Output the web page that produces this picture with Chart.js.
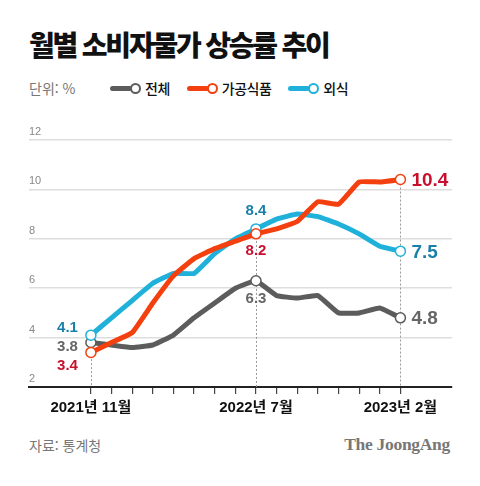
<!DOCTYPE html>
<html lang="ko">
<head>
<meta charset="utf-8">
<script src="https://cdn.jsdelivr.net/npm/chart.js@4"></script>
<style>
  body { margin: 0; width: 480px; height: 486px; background: #fff; position: relative; overflow: hidden;
         font-family: "Noto Sans CJK KR", "Noto Sans", sans-serif; }
  #title { position: absolute; left: 29px; top: 28px; font-size: 28px; line-height: 32px; font-weight: 900;
           letter-spacing: -2.2px; color: #111; white-space: nowrap; }
  #unit { position: absolute; left: 29px; top: 78px; font-size: 14px; line-height: 20px; color: #777; }
  #legend { position: absolute; left: 110px; top: 78px; display: flex; align-items: center; height: 20px; }
  .item { display: flex; align-items: center; margin-right: 17px; }
  .swatch { width: 22px; height: 5px; border-radius: 3px; }
  .dot { width: 7px; height: 7px; border-radius: 50%; border: 2px solid; background: #fff; margin-left: -2px; }
  .name { margin-left: 4px; font-size: 14px; font-weight: 500; color: #111; letter-spacing: -0.5px; }
  #chart { position: absolute; left: 0; top: 110px; }
  #source { position: absolute; left: 29px; top: 435px; font-size: 14px; line-height: 20px; color: #777; }
  #brand { position: absolute; right: 30px; top: 433px; font-family: "Liberation Serif", serif; font-weight: bold;
           font-size: 17.5px; line-height: 22px; color: #777; letter-spacing: -0.3px; }
</style>
</head>
<body>
<div id="title">월별 소비자물가 상승률 추이</div>
<div id="unit">단위: %</div>
<div id="legend"></div>
<canvas id="chart" width="480" height="320"></canvas>
<div id="source">자료: 통계청</div>
<div id="brand">The JoongAng</div>
<script>
// monthly data, 2021-11 .. 2023-02
const months = ['2021-11', '2021-12', '2022-01', '2022-02', '2022-03', '2022-04', '2022-05', '2022-06',
                '2022-07', '2022-08', '2022-09', '2022-10', '2022-11', '2022-12', '2023-01', '2023-02'];
const total = [3.8, 3.7, 3.6, 3.7, 4.1, 4.8, 5.4, 6.0, 6.3, 5.7, 5.6, 5.7, 5.0, 5.0, 5.2, 4.8];
const processedFood = [3.4, 3.8, 4.2, 5.4, 6.5, 7.2, 7.6, 7.9, 8.2, 8.4, 8.7, 9.5, 9.4, 10.3, 10.3, 10.4];
const diningOut = [4.1, 4.8, 5.5, 6.2, 6.6, 6.6, 7.4, 8.0, 8.4, 8.8, 9.0, 8.9, 8.6, 8.2, 7.7, 7.5];
const seriesNames = ['전체', '가공식품', '외식'];
const tickLabels = { 0: '2021년 11월', 8: '2022년 7월', 15: '2023년 2월' };
const yTicks = [2, 4, 6, 8, 10, 12];
const markIdx = [0, 8, 15];

const lineColors = ['#5c5c5c', '#f4400f', '#1fb1da'];
const textColors = ['#666666', '#c8102e', '#1a80aa'];
// label offsets for marked points: [dx, dy, align]
const labelPos = [
  { 0: [-13, 4, 'right'], 8: [0, 18, 'center'], 15: [11, 1, 'left'] },
  { 0: [-13, 13, 'right'], 8: [0, 17, 'center'], 15: [11, 1.5, 'left'] },
  { 0: [-13, -7, 'right'], 8: [0, -18, 'center'], 15: [11, 2, 'left'] }
];

const allSeries = [total, processedFood, diningOut];

// legend
const legend = document.getElementById('legend');
seriesNames.forEach((n, i) => {
  const it = document.createElement('div');
  it.className = 'item';
  it.innerHTML = '<span class="swatch" style="background:' + lineColors[i] + '"></span>' +
    '<span class="dot" style="border-color:' + lineColors[i] + '"></span>' +
    '<span class="name">' + n + '</span>';
  legend.appendChild(it);
});

const guidePlugin = {
  id: 'guides',
  beforeDatasetsDraw(chart) {
    const { ctx, scales: { x, y } } = chart;
    ctx.save();
    ctx.strokeStyle = '#9a9a9a';
    ctx.lineWidth = 1;
    ctx.setLineDash([2, 2]);
    markIdx.forEach(i => {
      const top = Math.max(...allSeries.map(s => s[i]));
      const px = Math.round(x.getPixelForValue(i)) + 0.5;
      ctx.beginPath();
      ctx.moveTo(px, y.getPixelForValue(top));
      ctx.lineTo(px, y.getPixelForValue(2));
      ctx.stroke();
    });
    ctx.restore();
  },
  afterDatasetsDraw(chart) {
    const { ctx, scales: { x, y } } = chart;
    ctx.save();
    ctx.textBaseline = 'middle';
    allSeries.forEach((s, k) => {
      markIdx.forEach(i => {
        const [dx, dy, align] = labelPos[k][i];
        ctx.font = (i === 15 ? 'bold 19px' : 'bold 15px') + ' "Liberation Sans", "Noto Sans CJK KR", sans-serif';
        ctx.fillStyle = textColors[k];
        ctx.textAlign = align;
        ctx.fillText(s[i].toFixed(1), x.getPixelForValue(i) + dx, y.getPixelForValue(s[i]) + dy);
      });
    });
    ctx.restore();
  }
};

const datasets = allSeries.map((s, k) => ({
  label: seriesNames[k],
  data: s.map((v, i) => ({ x: i, y: v })),
  borderColor: lineColors[k],
  borderWidth: 5,
  borderJoinStyle: 'round',
  borderCapStyle: 'round',
  tension: 0.1,
  pointRadius: s.map((v, i) => markIdx.includes(i) ? 5 : 0),
  pointBorderWidth: 1.5,
  pointBackgroundColor: '#fff',
  pointBorderColor: lineColors[k],
  order: [2, 0, 1][k]
}));

new Chart(document.getElementById('chart'), {
  type: 'line',
  data: { datasets: datasets },
  plugins: [guidePlugin],
  options: {
    responsive: false,
    animation: false,
    layout: { padding: { left: 29, right: 28, top: 30, bottom: 0 } },
    plugins: { legend: { display: false }, tooltip: { enabled: false } },
    scales: {
      x: {
        type: 'linear',
        min: -3,
        max: 17.5,
        afterBuildTicks: (axis) => { axis.ticks = months.map((m, i) => ({ value: i })); },
        afterFit: (axis) => { axis.height = 43; },
        ticks: {
          autoSkip: false,
          maxRotation: 0,
          padding: 5,
          color: '#111',
          font: { family: '"Liberation Sans", "Noto Sans CJK KR", sans-serif', size: 15, weight: 'bold' },
          callback: (v) => tickLabels[v] || ''
        },
        grid: { drawOnChartArea: false, drawTicks: true, tickLength: 7, color: '#444', lineWidth: 1.2 },
        border: { display: true, color: '#222', width: 2 }
      },
      y: {
        min: 2,
        max: 12,
        afterBuildTicks: (axis) => { axis.ticks = yTicks.map(v => ({ value: v })); },
        afterFit: (axis) => { axis.width = 0; },
        ticks: {
          mirror: true,
          padding: 0,
          labelOffset: -8,
          color: '#888',
          font: { family: '"Liberation Sans", sans-serif', size: 11 }
        },
        grid: { drawTicks: false, color: '#dddddd', lineWidth: 1.5 },
        border: { display: false }
      }
    }
  }
});
</script>
</body>
</html>
